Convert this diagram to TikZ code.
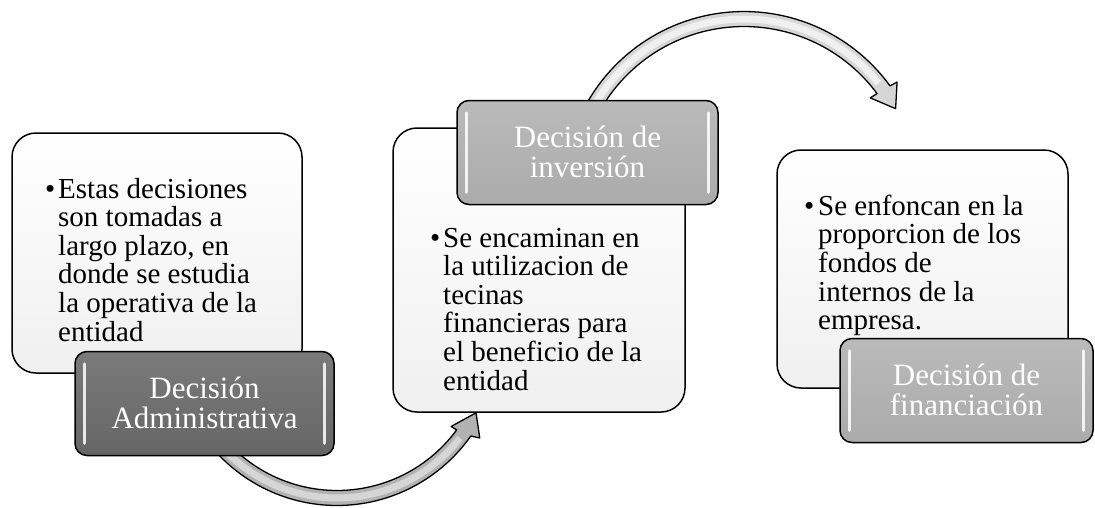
\documentclass[tikz,border=0pt]{standalone}
\usepackage{fontspec}
\setmainfont{Liberation Serif}
\begin{document}
\begin{tikzpicture}[x=1pt,y=-1pt,
  whitebox/.style={draw=black, line width=1.5pt, rounded corners=24pt, top color=white, bottom color=black!6, inner sep=0pt},
  titlebox/.style={draw=black, line width=1.5pt, rounded corners=12pt, inner sep=0pt, minimum height=104pt},
  darkfill/.style={top color=black!52, bottom color=black!60},
  greyfill/.style={top color=black!27, bottom color=black!33},
  bodytext/.style={anchor=base west, inner sep=0pt, font=\fontsize{29}{28.4}\selectfont},
  titletext/.style={anchor=base, inner sep=0pt, text=white, font=\fontsize{31}{30}\selectfont},
  arrowband/.style={draw=black, line width=1.3pt, line join=round},
  hl/.style={white, line width=3pt, line cap=round, opacity=0.85}
]
\useasboundingbox (0,0) rectangle (1095,507);

% white content boxes
\node[whitebox, minimum width=290pt, minimum height=240pt] (w1) at (157,253) {};
\node[whitebox, minimum width=292pt, minimum height=284pt] (w2) at (539,270) {};
\node[whitebox, minimum width=291pt, minimum height=238pt] (w3) at (922.5,269) {};

% arrow 1 (bottom)
\path[arrowband, fill=black!30]
  plot[domain=145:35.1, samples=60] ({337+163.5*cos(\x)},{342+163.5*sin(\x)})
  -- ({337+172*cos(33.9)},{342+172*sin(33.9)})
  -- ({337+156*cos(27)},{342+156*sin(27)})
  -- ({337+142*cos(36.5)},{342+142*sin(36.5)})
  -- plot[domain=36.3:145, samples=60] ({337+148.5*cos(\x)},{342+148.5*sin(\x)})
  -- cycle;
\draw[black!16, line width=7pt] plot[domain=145:38, samples=60] ({337+156*cos(\x)},{342+156*sin(\x)});

% arrow 2 (top)
\path[arrowband, fill=black!16]
  plot[domain=-152:-36.0, samples=60] ({744+180.5*cos(\x)},{192+180.5*sin(\x)})
  -- ({744+188.5*cos(-35.7)},{192+188.5*sin(-35.7)})
  -- ({744+173*cos(-28.8)},{192+173*sin(-28.8)})
  -- ({744+157.5*cos(-36.7)},{192+157.5*sin(-36.7)})
  -- plot[domain=-36.5:-152, samples=60] ({744+165.5*cos(\x)},{192+165.5*sin(\x)})
  -- cycle;
\draw[black!6, line width=7pt] plot[domain=-152:-39, samples=60] ({744+173*cos(\x)},{192+173*sin(\x)});

% title boxes
\node[titlebox, darkfill, minimum width=259pt] (t1) at (204.5,403.5) {};
\node[titlebox, greyfill, minimum width=261pt] (t2) at (587.5,152.5) {};
\node[titlebox, greyfill, minimum width=253pt] (t3) at (966.5,390.5) {};

\foreach \t in {t1,t2,t3}{
  \draw[hl] ([xshift=10pt,yshift=-13pt]\t.north west) -- ([xshift=10pt,yshift=13pt]\t.south west);
  \draw[hl] ([xshift=-10pt,yshift=-13pt]\t.north east) -- ([xshift=-10pt,yshift=13pt]\t.south east);
}

% body texts
\node[bodytext] (b1) at (45,198) {\begin{tabular}[t]{@{}l@{}l@{}}\makebox[13pt][l]{•}&Estas decisiones\\ &son tomadas a\\ &largo plazo, en\\ &donde se estudia\\ &la operativa de la\\ &entidad\end{tabular}};
\node[bodytext] (b2) at (430,247) {\begin{tabular}[t]{@{}l@{}l@{}}\makebox[13pt][l]{•}&Se encaminan en\\ &la utilizacion de\\ &tecinas\\ &financieras para\\ &el beneficio de la\\ &entidad\end{tabular}};
\node[bodytext] (b3) at (804,215) {\begin{tabular}[t]{@{}l@{}l@{}}\makebox[14pt][l]{•}&Se enfoncan en la\\ &proporcion de los\\ &fondos de\\ &internos de la\\ &empresa.\end{tabular}};

% title texts
\node[titletext] (l1) at (204.5,398) {\begin{tabular}[t]{@{}c@{}}Decisión\\Administrativa\end{tabular}};
\node[titletext] (l2) at (587.5,147) {\begin{tabular}[t]{@{}c@{}}Decisión de\\inversión\end{tabular}};
\node[titletext] (l3) at (966.5,385) {\begin{tabular}[t]{@{}c@{}}Decisión de\\financiación\end{tabular}};
\end{tikzpicture}
\end{document}
